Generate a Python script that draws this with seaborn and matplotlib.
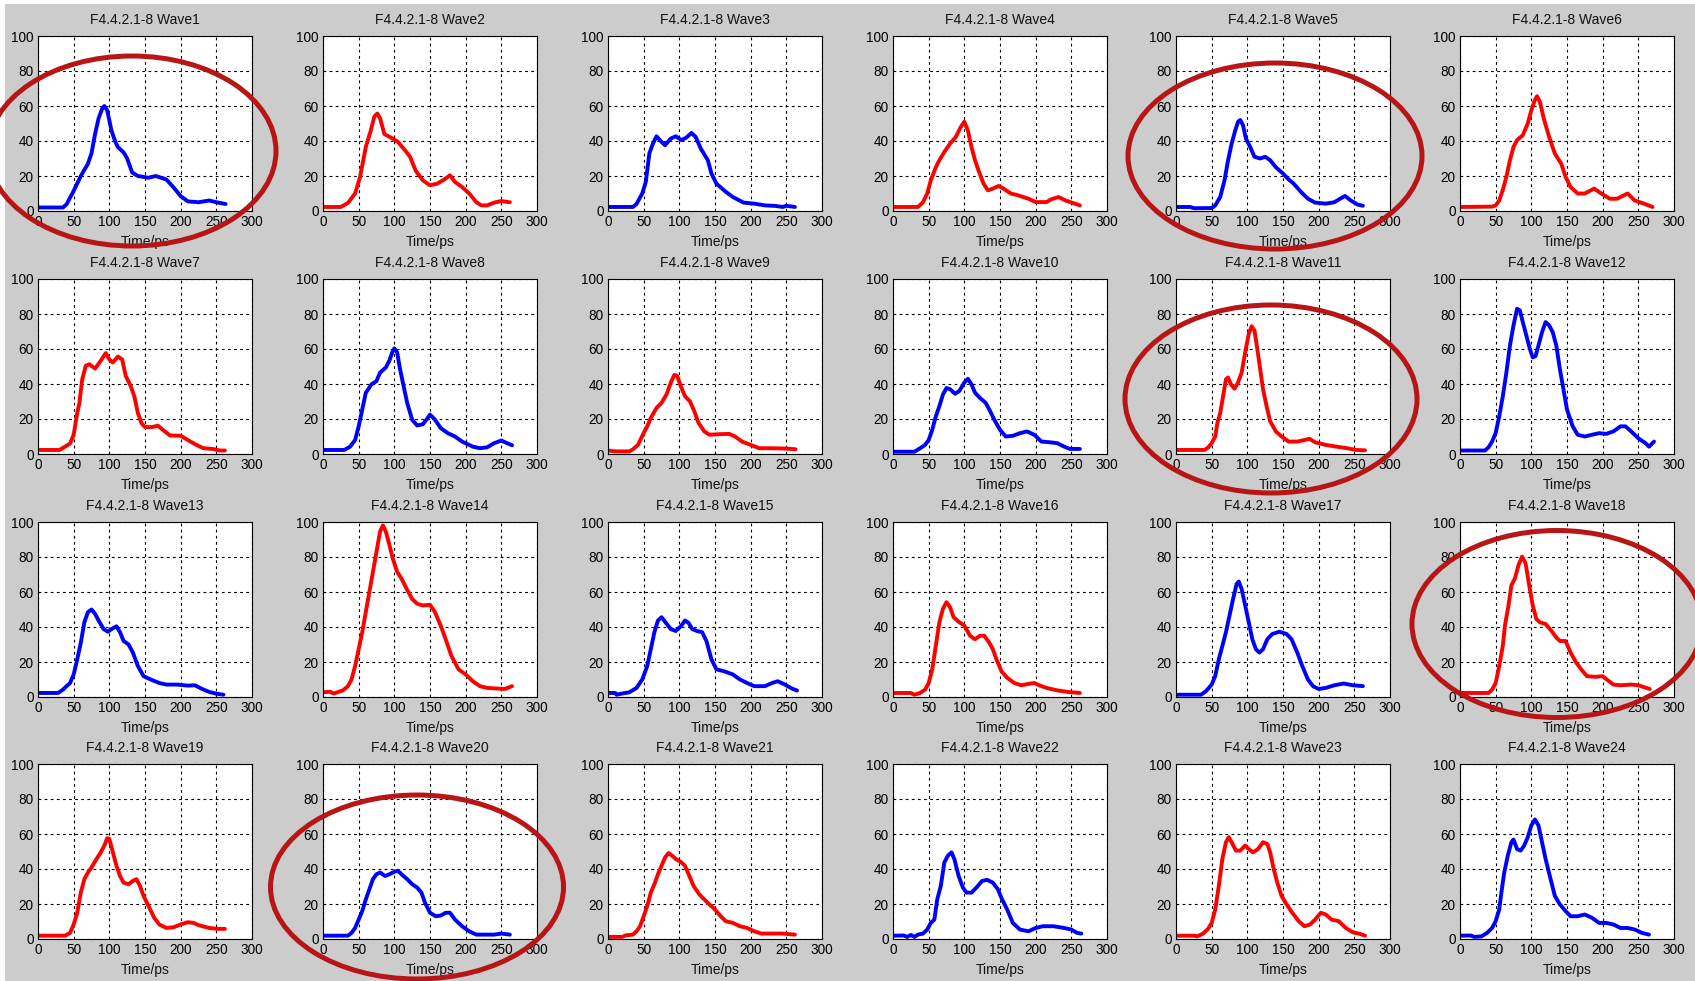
import matplotlib
matplotlib.use("Agg")
import matplotlib.pyplot as plt
import seaborn as sns
from matplotlib.patches import Ellipse, Rectangle

# ---- data: (time/ps, amplitude) ----
wave1 = [(0,2),(35,2),(40,3.8),(50,11.5),(60,20),(70,27),(75,33),(80,44),(85,53),(90,58.5),(93,60),(97,57.5),(103,46),(108,40),(112,36.5),(120,33.5),(125,30),(132,22),(140,20),(155,19),(165,20),(180,18),(190,13.5),(200,8.5),(210,5.5),(225,5),(240,6),(250,5),(263,4)]
wave2 = [(0,2.3),(25,2.3),(35,4.6),(45,10),(52,19.5),(60,36.6),(67,46),(72,54),(76,55.7),(80,53),(86,44),(95,42),(105,39.5),(115,34.7),(122,31),(130,23),(140,17.5),(150,14.7),(160,15.6),(170,18),(178,20.4),(185,16.6),(195,13.7),(205,10),(215,5),(222,3.2),(230,3.2),(240,4.8),(250,5.7),(262,5)]
wave3 = [(0,2.3),(35,2.3),(40,4),(48,10),(53,16.6),(58,33),(63,38.5),(68,42.7),(75,39.5),(80,37.6),(88,41.4),(95,42.7),(103,40.5),(110,42),(117,44.6),(123,42.3),(130,35.7),(140,29),(145,21.4),(152,15.6),(165,11),(175,8),(190,4.8),(205,4.2),(220,3.2),(235,2.9),(245,2.3),(250,3),(262,2.3)]
wave4 = [(0,2.3),(35,2.3),(42,5),(48,10),(53,17.5),(60,25),(65,29),(72,33.8),(80,38.5),(88,42.3),(95,48),(100,51),(105,46),(110,36.6),(115,29),(120,23),(127,15.6),(133,11.8),(140,12.8),(148,14.3),(155,12.8),(165,10),(175,9),(190,7),(200,5.1),(215,5.1),(222,6.7),(232,8),(242,6),(252,4.6),(262,3.2)]
wave5 = [(0,2.3),(20,2.3),(25,1.6),(50,1.7),(55,3.2),(62,8),(68,17.5),(73,29),(78,38.5),(83,46),(87,51),(90,52),(94,49),(98,41.4),(104,36.6),(110,31),(118,30),(125,31),(132,29),(140,25),(150,21.4),(158,18),(165,15.6),(175,11),(185,7),(195,4.8),(210,4.2),(222,5),(230,7),(237,8.6),(245,6),(255,3.6),(262,3)]
wave6 = [(0,2.3),(45,2.5),(50,3.2),(55,6),(60,12),(65,19.5),(70,29),(75,36.6),(80,40.5),(88,43.3),(95,50),(100,57.6),(105,63.4),(108,65.6),(112,62.4),(118,52),(125,42.3),(133,32.8),(142,27),(148,19.5),(155,13.7),(165,10),(175,10),(188,12.8),(198,10),(210,7),(220,7),(235,10),(245,6),(258,4.2),(270,2.3)]
wave7 = [(0,2.3),(30,2.3),(38,4.2),(45,6),(50,11),(55,23.5),(58,29),(62,42.7),(67,50.4),(72,51.3),(80,48.8),(88,53.3),(95,57.7),(100,54),(105,52.3),(112,55.7),(118,54),(123,44.6),(130,38.8),(135,33),(140,23.5),(145,17.7),(150,15.4),(160,15.4),(168,16.2),(175,13.8),(185,10.6),(200,10.4),(210,8),(222,5.2),(232,3.3),(245,2.9),(255,2),(262,2)]
wave8 = [(0,2.3),(30,2.3),(38,4.2),(45,8),(50,15.8),(55,25.4),(60,35),(68,39.8),(75,41.7),(80,46.5),(88,49.4),(93,53.3),(97,58),(100,60.4),(104,58),(108,48.5),(113,38.8),(118,29.2),(125,19.6),(132,16.3),(140,17),(145,19.6),(150,22.5),(157,19.6),(165,14.8),(175,11.9),(185,10),(195,7.1),(210,4.2),(220,3.3),(230,3.8),(240,6.2),(250,7.7),(258,6.2),(265,5)]
wave9 = [(0,2),(10,1.5),(30,1.5),(35,2.7),(42,5.2),(50,12),(55,15.8),(60,20.6),(68,26.3),(75,29.2),(82,34),(88,40.8),(93,45.2),(97,44.6),(102,38.8),(108,33),(115,30),(120,25.4),(127,17.7),(135,12.9),(142,11),(155,11.3),(170,11.5),(178,10),(188,7.1),(200,5.2),(212,3.3),(230,3.3),(250,3.1),(263,2.7)]
wave10 = [(0,1.3),(30,1.3),(38,3.3),(45,5.2),(50,8),(55,13.8),(60,21.5),(65,27.3),(70,34),(75,37.7),(80,37),(87,34.4),(93,36),(100,40.8),(105,43),(110,39.8),(115,35),(122,32),(130,29.2),(135,25.4),(142,19.6),(150,13.8),(158,10),(168,10.4),(178,11.9),(188,12.9),(198,11),(208,7.1),(220,6.7),(230,6.2),(240,4.2),(248,2.9),(262,2.9)]
wave11 = [(0,2.3),(40,2.3),(45,3.7),(50,6.2),(55,10),(58,17.7),(62,23.5),(66,33),(70,42.7),(73,43.7),(77,39.8),(82,37.3),(87,40.8),(92,46.5),(97,58),(102,68.7),(106,73),(110,70.6),(114,60),(118,48.5),(122,37),(127,27.3),(132,18.7),(140,12.9),(148,10),(158,7.1),(170,7.1),(180,8),(187,8.7),(195,6.7),(210,5.2),(225,4.2),(240,3.3),(252,2.3),(265,2.1)]
wave12 = [(0,2),(35,2),(40,3.8),(45,7.1),(50,12),(55,21.5),(60,33),(65,46.5),(70,62),(75,73.5),(80,83),(84,82),(88,75.4),(93,67.7),(98,60),(102,55.2),(106,56),(110,62),(115,69.6),(120,75.4),(125,73.5),(130,69.6),(135,62),(140,48.5),(145,37),(150,25.4),(158,15.8),(165,11),(175,10),(185,11),(195,11.9),(205,11.5),(215,12.9),(225,15.8),(232,15.8),(240,12.9),(250,9),(260,6.2),(265,4.2),(272,7.1)]
wave13 = [(0,2.3),(28,2.3),(35,4.2),(40,6.2),(45,8),(50,12.9),(55,21.5),(60,31),(65,42.7),(70,48.5),(75,50),(80,47.5),(85,43.7),(92,38.8),(98,37.3),(103,38.8),(110,40.4),(115,37),(120,32),(127,30),(133,25.4),(140,17.7),(148,11.9),(158,10),(170,8),(180,7.1),(195,7.1),(210,6.5),(220,6.7),(230,4.6),(240,2.9),(250,1.9),(260,1.3)]
wave14 = [(0,2.7),(10,3),(15,2),(20,2.7),(28,3.8),(35,6.2),(40,10),(45,17.7),(50,27.3),(55,37),(60,48.5),(65,60),(70,71.5),(75,83),(80,94.6),(84,98),(88,94.6),(93,87),(98,79),(104,71.5),(110,67.7),(117,62),(125,56),(132,53.3),(140,52.3),(150,52.7),(157,48.5),(165,40.8),(172,33),(180,23.5),(190,15.8),(200,12.9),(210,9),(220,6.2),(230,5.2),(245,4.8),(255,4.6),(265,6.2)]
wave15 = [(0,2.3),(10,2.3),(12,1.3),(20,2),(30,2.7),(40,5.2),(48,10),(55,17.7),(60,27.3),(65,37),(70,43.7),(75,45.6),(80,43),(88,38.8),(95,37.7),(102,40.4),(108,43.7),(113,42.3),(118,38.8),(125,37.7),(132,37),(138,32),(145,21.5),(152,15.8),(162,14.8),(175,12.9),(185,10),(195,8),(205,6.2),(220,6.2),(230,8),(238,9),(248,7.1),(258,4.8),(265,3.7)]
wave16 = [(0,2.3),(25,2.3),(30,1.3),(38,2.3),(45,4.2),(50,8),(55,15.8),(60,29.2),(65,42.7),(70,50.4),(75,54.2),(80,51.3),(85,45.6),(92,43),(100,40.8),(108,35),(115,33),(122,35),(128,35),(135,31),(140,27.3),(145,21.5),(152,14.8),(160,11),(170,8),(180,6.7),(190,7.5),(198,8),(205,6.7),(215,5.2),(230,3.8),(245,2.9),(262,2.3)]
wave17 = [(0,1.3),(35,1.3),(42,3.3),(50,7.1),(55,12),(60,21.5),(65,29.2),(70,37),(75,46.5),(80,56),(85,64.6),(88,66),(92,61.7),(97,52.3),(102,42.7),(107,33),(112,27.3),(117,25.4),(122,27.3),(128,33),(135,36),(145,37.3),(155,36),(162,33),(170,25.4),(177,17.7),(185,10),(192,6.2),(200,4.6),(210,5.2),(222,6.7),(235,7.7),(248,6.7),(262,6.2)]
wave18 = [(0,2.3),(40,2.3),(45,4.2),(50,8),(55,17.7),(60,29.2),(63,40.8),(68,52.3),(72,63.8),(77,67.7),(82,75.4),(87,80.2),(92,76.3),(97,63.8),(102,52.3),(107,44.6),(112,42.7),(120,41.7),(128,37.9),(135,34),(140,32),(148,32),(155,25.4),(163,19.6),(170,15.8),(178,11.9),(190,11.5),(200,11.9),(207,9.6),(215,7.1),(225,6.7),(240,7.1),(250,6.7),(258,5.6),(266,4.6)]
wave19 = [(0,1.9),(38,1.9),(45,3.5),(50,8.3),(55,15),(60,26.5),(65,34.2),(70,38),(75,40.9),(82,45.7),(88,49.5),(93,53.4),(97,57.6),(100,57.2),(105,49.5),(110,41.8),(115,36),(120,32.2),(127,31.3),(133,33.2),(138,34.2),(143,30.3),(148,24.6),(155,18.8),(163,12.1),(170,8.3),(180,6.3),(190,6.7),(200,8.3),(210,9.6),(218,9.2),(225,7.9),(240,6.3),(252,5.8),(262,5.8)]
wave20 = [(0,1.9),(35,1.9),(40,3.5),(45,6.3),(50,11.1),(55,16),(60,22.6),(65,28.4),(70,34.2),(75,37),(80,38),(87,36),(93,37),(100,38.4),(105,39),(110,37),(118,34.2),(125,31.3),(132,29.4),(138,26.5),(143,20.7),(150,15),(158,13),(165,13.4),(172,15),(178,15),(185,11.1),(195,7.3),(205,4.4),(215,2.5),(225,2.5),(240,2.5),(250,3.1),(262,2.5)]
wave21 = [(0,1.2),(20,1.2),(25,2.1),(35,2.5),(40,4.4),(45,7.3),(50,13),(55,18.8),(60,26.5),(65,31.3),(70,37),(75,41.8),(80,46.6),(85,49.1),(90,47.6),(95,45.7),(102,44.1),(108,41.8),(113,37),(120,30.3),(128,25.5),(135,22.6),(142,19.8),(150,16.9),(158,13),(165,10.2),(175,9.2),(185,7.3),(195,6.3),(205,4.4),(215,3.1),(230,3.1),(245,3.1),(262,2.5)]
wave22 = [(0,1.9),(15,2),(20,1.2),(25,2.3),(30,1.2),(35,2.5),(42,3.1),(48,5.4),(53,9.2),(58,11.1),(62,22.6),(67,30.3),(72,43.8),(77,47.6),(82,49.5),(86,45.7),(92,36),(98,29.4),(103,26.5),(110,26.5),(117,29.4),(125,33.2),(132,33.8),(140,32.2),(147,28.4),(153,22.6),(160,16.9),(168,9.2),(178,5.4),(190,4.4),(200,6.3),(210,7.3),(225,7.3),(240,6.3),(250,5.4),(258,3.5),(264,3.1)]
wave23 = [(0,1.9),(25,1.9),(30,1.5),(38,3.1),(45,5.8),(50,9.2),(55,16.9),(60,30.3),(65,45.7),(70,55.3),(74,58.2),(78,55.3),(84,50.5),(90,50.5),(97,53.4),(102,51.4),(108,49.5),(115,51.4),(122,55.3),(128,54.3),(132,49.5),(137,39.9),(142,32.2),(148,24.6),(155,19.8),(163,15),(172,10.2),(180,7.3),(188,8.3),(195,11.1),(203,15),(210,14),(218,11.1),(228,10.2),(238,6.3),(248,3.8),(258,2.9),(265,1.9)]
wave24 = [(0,1.9),(15,2),(20,1.2),(30,1.5),(38,3.5),(45,6.3),(50,10.2),(55,16.9),(58,26.5),(62,38),(67,47.6),(72,55.3),(75,56.8),(80,51.4),(85,50.5),(90,53.4),(95,58.2),(100,64.9),(105,68.3),(110,64.9),(115,55.3),(120,45.7),(127,34.2),(133,24.6),(140,19.8),(148,16),(155,13),(165,13),(175,14),(185,12.1),(195,9.2),(205,9.2),(215,8.3),(225,6.3),(235,6.3),(245,5.4),(255,3.5),(265,2.5)]

waves = [wave1, wave2, wave3, wave4, wave5, wave6, wave7, wave8, wave9, wave10, wave11, wave12,
         wave13, wave14, wave15, wave16, wave17, wave18, wave19, wave20, wave21, wave22, wave23, wave24]
wave_numbers = list(range(1, 25))
wave_colors = ["blue", "red", "blue", "red", "blue", "red",
               "red", "blue", "red", "blue", "red", "blue",
               "blue", "red", "blue", "red", "blue", "red",
               "red", "blue", "red", "blue", "red", "blue"]
x_ticks = [0, 50, 100, 150, 200, 250, 300]
y_ticks = [0, 20, 40, 60, 80, 100]
circled = [1, 5, 11, 18, 20]

# ---- style ----
sns.set_theme(style="white")
plt.rcParams["font.family"] = ["Liberation Sans", "DejaVu Sans"]

FW, FH = 1695, 981
fig = plt.figure(figsize=(FW / 100, FH / 100), dpi=100)
fig.patch.set_facecolor("white")
fig.add_artist(Rectangle((5 / FW, 0), 1, 1 - 4 / FH, transform=fig.transFigure,
                         facecolor="#cccccc", edgecolor="none", zorder=-10))

col_left = [38, 323, 608, 893, 1176, 1460]
row_top = [36, 279, 522, 764]
ax_w, ax_h = 214, 175

for i, (data, num, col) in enumerate(zip(waves, wave_numbers, wave_colors)):
    r, c = divmod(i, 6)
    left = col_left[c] / FW
    bottom = 1 - (row_top[r] + ax_h) / FH
    ax = fig.add_axes([left, bottom, ax_w / FW, ax_h / FH])
    ax.set_facecolor("white")
    t = [p[0] for p in data]
    v = [p[1] for p in data]
    sns.lineplot(x=t, y=v, ax=ax, color=col, linewidth=2.8, sort=False)
    ax.set_xlim(0, 300)
    ax.set_ylim(0, 100)
    ax.set_xticks(x_ticks)
    ax.set_yticks(y_ticks)
    ax.grid(True, color="black", linestyle=(0, (2.5, 3)), linewidth=0.8)
    ax.set_axisbelow(True)
    for s in ax.spines.values():
        s.set_color("black")
        s.set_linewidth(0.8)
    ax.tick_params(direction="in", length=3, width=0.6, labelsize=9.8,
                   colors="black", pad=3)
    ax.set_title(f"F4.4.2.1-8 Wave{num}", fontsize=10, pad=8.5, color="#111111")
    ax.set_xlabel("Time/ps", fontsize=10, labelpad=4, color="#111111")
    ax.set_ylabel("")

# ---- red annotation ellipses (pixel coords: cx, cy, w, h) ----
ellipse_px = {1: (132, 151, 288, 190), 5: (1275, 156, 294, 186),
              11: (1271, 399, 292, 188), 18: (1557, 624, 290, 187),
              20: (417, 887, 293, 184)}
for k in circled:
    cx, cy, w, h = ellipse_px[k]
    e = Ellipse((cx / FW, 1 - cy / FH), w / FW, h / FH, transform=fig.transFigure,
                fill=False, edgecolor="#b81616", linewidth=3.6, zorder=100)
    fig.add_artist(e)

fig.savefig("out.png", dpi=100, facecolor=fig.get_facecolor())
